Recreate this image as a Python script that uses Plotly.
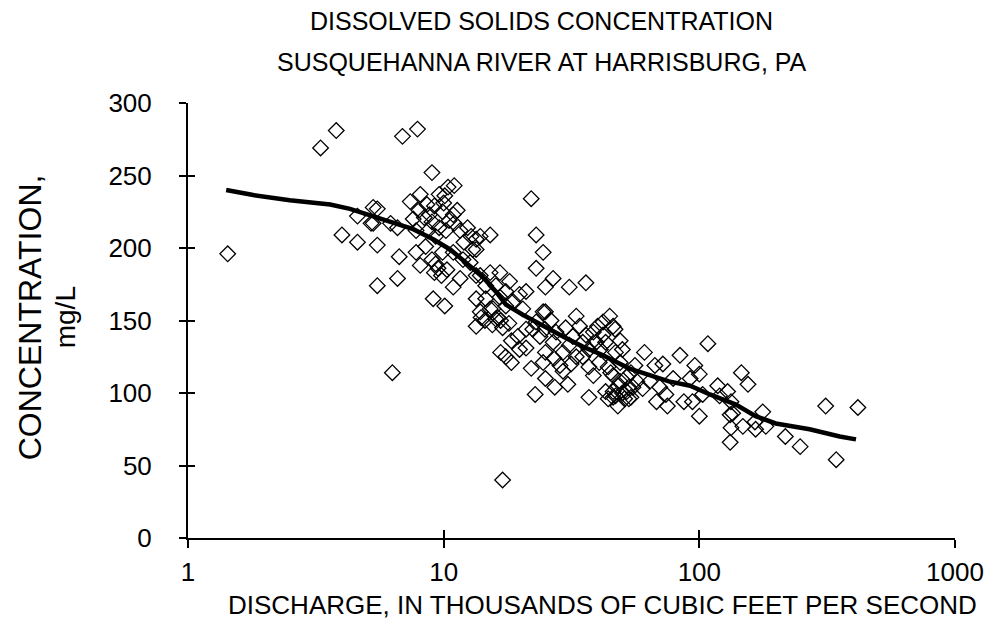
import plotly.graph_objects as go

# scatter data: discharge (thousands cfs) and dissolved solids (mg/L)
discharge = [
    1.43, 3.3, 3.8, 6.9, 7.9, 9.0,
    4.0, 4.6, 5.5, 5.3, 4.6, 5.3, 5.5, 5.2,
    7.4, 8.1, 10.4, 11.0, 10.1, 9.6,
    6.7, 6.6, 5.5, 6.3, 9.1, 10.1, 10.9, 11.6,
    6.2, 6.6,
    7.6, 8.4, 9.2, 8.8, 9.9, 10.9, 7.8, 8.7, 9.3, 10.2, 11.0, 11.6, 12.8, 13.9,
    7.8, 8.5, 8.1, 9.2, 9.3, 9.9,
    10.9, 11.9, 13.0, 12.7, 13.4,
    15.2, 13.4, 13.4,
    22, 23, 24.5, 23,
    26.8, 31, 36, 25,
    15.2, 16.6, 18.1, 16, 14.6, 17.5, 19.8, 21, 13.9,
    14.6, 16.6, 18.7, 15.6, 13.4, 14,
    17,
    13.9, 15.2, 16.3, 17.5, 16.7, 20.4,
    24.5, 23, 21, 19.5, 18.4,
    16.7, 18.4, 17.5, 19.8,
    22, 24.5, 25, 27.2, 22.8,
    28.5, 29.3, 26.8, 23.8, 22.3,
    33, 34, 32, 35, 37, 33, 31.5, 29.3, 37, 35,
    44.6, 46, 43, 47, 49, 45, 49, 43, 37, 48, 52, 54,
    38.5, 39.5, 41, 40.6, 38.5,
    26.3, 27.5, 24.9, 13.4, 25, 16,
    44, 53, 46, 42,
    46.8, 49, 50,
    61, 84, 96, 72, 67, 56,
    46, 52, 53, 48, 44,
    46, 54,
    68, 75, 74, 79, 87, 94, 100, 92, 103,
    135, 148, 165,
    108, 312, 417, 343, 248, 217, 146, 155, 132,
    177, 182, 166, 133, 132,
    118, 129, 133, 120,
    100, 64, 70, 30.6,
    8.0, 9.0, 9.6, 10.5, 11.3, 12.0, 12.4, 10.0, 8.6,
    9.5, 9.8, 10.3, 9.0,
    14.5, 15.5, 17, 18,
    30, 31, 36, 40, 42,
    50, 51, 55, 57, 60, 47,
    21, 25, 27,
]
concentration = [
    196, 269, 281, 277, 282, 252,
    209, 204, 202, 228, 222, 217, 227, 217,
    232, 237, 242, 243, 236, 237,
    194, 179, 174, 114, 165, 160, 173, 179,
    217, 214,
    220, 221, 229, 223, 225, 223, 212, 212, 208, 212, 217, 212, 208, 208,
    197, 201, 188, 183, 189, 197,
    197, 192, 199, 190, 181,
    209, 206, 199,
    234, 209, 197, 186,
    179, 173, 176, 173,
    183, 183, 177, 174, 174, 170, 168, 170, 181,
    165, 166, 163, 158, 165, 152,
    40,
    156, 158, 152, 160, 150, 158,
    156, 149, 144, 139, 136,
    128, 121, 125, 130,
    117, 121, 110, 104, 99,
    119, 128, 135, 139, 144,
    153, 146, 139, 135, 130, 125, 120, 115, 118, 125,
    153, 146, 135, 128, 121, 114, 108, 101, 97, 91, 101, 114,
    142, 135, 130, 121, 112,
    150, 142, 144, 146, 156, 151,
    96, 96, 101, 149,
    144, 136, 130,
    128, 126, 119, 120, 119, 119,
    112, 111, 104, 105, 118,
    97, 97,
    94, 91, 99, 110, 94, 94, 84, 110, 99,
    86, 77, 80,
    134, 91, 90, 54, 63, 70, 114, 106, 66,
    87, 77, 75, 76, 85,
    105, 101, 94, 98,
    113, 108, 104, 106,
    226, 218, 214, 219, 226, 204, 214, 231, 230,
    186, 181, 185, 192,
    150, 147, 145, 148,
    145, 133, 140, 146, 140,
    100, 96, 104, 108, 103, 98,
    131, 128, 124,
]

# smoothed curve through the data
curve_q = [1.41, 1.8, 2.5, 3.6, 4.3, 5.3, 6.2, 7.6, 9.1, 10.6, 12.2, 14.2, 16, 17.5,
           20.4, 24.5, 29.3, 35, 42, 53, 64, 76, 92, 110, 139, 166, 199, 270, 354, 410]
curve_c = [240, 236.5, 233, 230, 227, 222, 218, 213, 206, 199, 190, 180, 170, 161,
           154, 146, 139, 132, 126, 117, 112, 108, 105, 99, 92, 84, 79, 75, 70, 68]

x_ticks = [1, 10, 100, 1000]
y_ticks = [0, 50, 100, 150, 200, 250, 300]

font = "Liberation Sans, Arial, Helvetica, sans-serif"

fig = go.Figure()
fig.add_trace(go.Scatter(
    x=discharge, y=concentration, mode="markers",
    marker=dict(symbol="diamond-open", size=12, color="black", line=dict(width=1.3, color="black")),
    showlegend=False,
))
fig.add_trace(go.Scatter(
    x=curve_q, y=curve_c, mode="lines",
    line=dict(color="black", width=4.5),
    showlegend=False,
))
# empty trace so the overlay axes (inner half of ticks) get drawn
fig.add_trace(go.Scatter(x=[], y=[], xaxis="x2", yaxis="y2", showlegend=False))


def label(text, x, y, size, angle=0):
    return dict(text=text, xref="paper", yref="paper", x=x, y=y, xanchor="center",
                yanchor="middle", textangle=angle, showarrow=False, font=dict(size=size))


fig.update_layout(
    width=996, height=635,
    margin=dict(l=180, r=49, t=95, b=105),
    paper_bgcolor="white", plot_bgcolor="white",
    font=dict(family=font, size=26, color="black"),
    xaxis=dict(
        type="log", range=[0, 3], tickvals=x_ticks, ticktext=[str(v) for v in x_ticks],
        ticks="outside", ticklen=8, tickwidth=2, tickcolor="black",
        showline=True, linecolor="black", linewidth=2,
        showgrid=False, zeroline=False, ticklabelstandoff=2,
    ),
    yaxis=dict(
        range=[0, 300], tickvals=y_ticks,
        ticks="outside", ticklen=7, tickwidth=2, tickcolor="black",
        showline=True, linecolor="black", linewidth=2,
        showgrid=False, zeroline=False, ticklabelstandoff=22,
    ),
    xaxis2=dict(
        type="log", range=[0, 3], tickvals=x_ticks, overlaying="x", anchor="y2",
        ticks="inside", ticklen=8, tickwidth=2, tickcolor="black",
        showticklabels=False, showline=False, showgrid=False, zeroline=False,
    ),
    yaxis2=dict(
        range=[0, 300], tickvals=y_ticks, overlaying="y", anchor="x2",
        ticks="inside", ticklen=7, tickwidth=2, tickcolor="black",
        showticklabels=False, showline=False, showgrid=False, zeroline=False,
    ),
    annotations=[
        label("DISSOLVED SOLIDS CONCENTRATION", 0.461, 1.1885, 25),
        label("SUSQUEHANNA RIVER AT HARRISBURG, PA", 0.461, 1.0943, 25),
        label("CONCENTRATION,", -0.2057, 0.508, 32, -90),
        label("mg/L", -0.16, 0.508, 28, -90),
        label("DISCHARGE, IN THOUSANDS OF CUBIC FEET PER SECOND", 0.540, -0.154, 26),
    ],
)

fig.write_html("out.html")
